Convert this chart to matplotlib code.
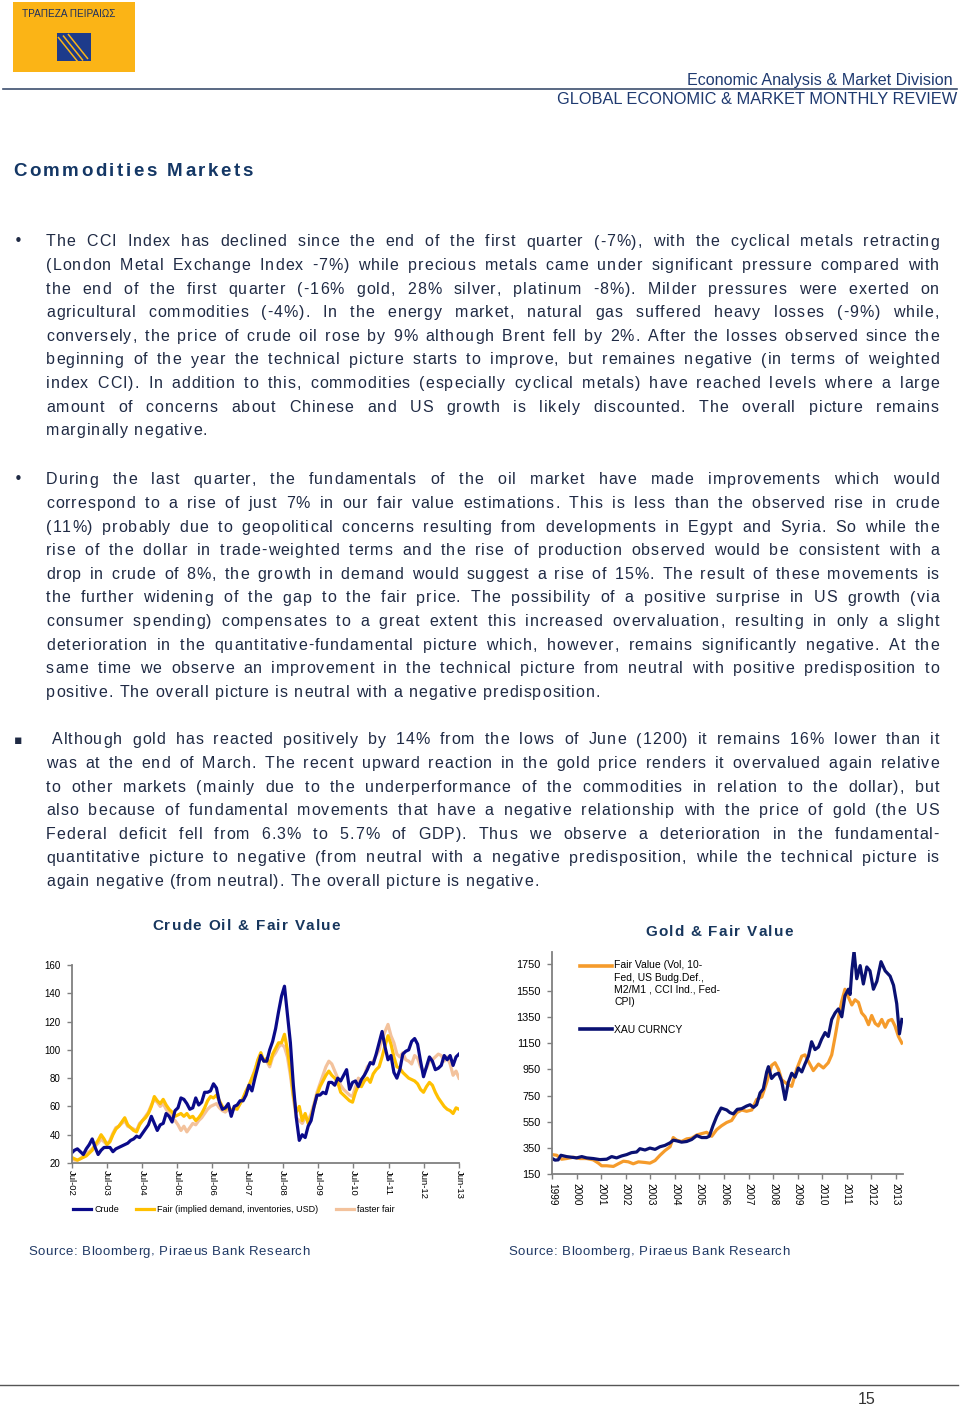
import numpy as np
import matplotlib
matplotlib.use("Agg")
import matplotlib.pyplot as plt
from matplotlib import font_manager as fm
from matplotlib.patches import Rectangle
from matplotlib.lines import Line2D
from matplotlib.legend_handler import HandlerLine2D

# %%
# data: crude oil chart, monthly points Jul-02 .. Jun-13
crude_ticks = ["Jul-02", "Jul-03", "Jul-04", "Jul-05", "Jul-06", "Jul-07",
               "Jul-08", "Jul-09", "Jul-10", "Jul-11", "Jun-12", "Jun-13"]

crude = [27, 29, 30, 28, 26, 30,
         33, 37, 31, 26, 29, 31, 31, 31, 28, 30, 31, 32,
         33, 34, 36, 37, 39, 38, 41, 44, 47, 53, 48, 43,
         47, 48, 55, 53, 49, 57, 59, 66, 65, 62, 58, 59,
         66, 61, 63, 70, 70, 71, 76, 73, 63, 58, 59, 62,
         53, 60, 61, 64, 64, 68, 75, 71, 80, 88, 96, 92,
         92, 100, 106, 115, 127, 138, 145, 125, 105, 75, 52, 36,
         40, 38, 46, 50, 60, 68, 68, 70, 69, 77, 77, 75,
         80, 78, 82, 86, 72, 77, 78, 74, 79, 82, 86, 91,
         90, 97, 105, 113, 102, 93, 96, 84, 80, 86, 97, 99,
         100, 106, 108, 104, 92, 81, 88, 95, 92, 86, 87, 89,
         96, 93, 96, 89, 95, 97]

fair_crude = [24, 23, 22, 23, 24, 25,
              27, 29, 33, 36, 40, 37, 33, 35, 40, 44, 46, 49,
              52, 47, 45, 43, 42, 47, 50, 52, 55, 60, 67, 64,
              62, 65, 61, 58, 56, 53, 54, 55, 53, 55, 52, 53,
              50, 52, 55, 59, 64, 67, 66, 68, 64, 60, 58, 60,
              57, 59, 58, 62, 66, 71, 75, 80, 85, 93, 98, 92,
              94, 90, 97, 101, 105, 105, 111, 100, 86, 68, 56, 60,
              50, 55, 48, 53, 60, 68, 74, 78, 82, 85, 82, 80,
              77, 70, 68, 66, 64, 63, 70, 75, 74, 78, 80, 77,
              83, 86, 88, 95, 103, 110, 104, 95, 88, 87, 84, 82,
              80, 79, 78, 76, 72, 70, 74, 77, 75, 70, 66, 63,
              60, 58, 57, 55, 59, 58]

faster_fair = [23, 22, 22, 23, 25, 27,
               28, 30, 32, 34, 37, 35, 33, 36, 41, 45, 46, 48,
               50, 46, 45, 44, 43, 48, 50, 53, 56, 61, 65, 63,
               60, 62, 58, 55, 52, 50, 47, 43, 46, 42, 45, 48,
               47, 50, 52, 55, 58, 60, 61, 62, 59, 57, 56, 58,
               57, 58, 59, 62, 65, 70, 74, 80, 86, 92, 96, 93,
               92, 88, 95, 98, 102, 104, 102, 95, 82, 66, 52, 50,
               48, 52, 50, 55, 62, 70, 76, 82, 88, 92, 90, 85,
               80, 75, 72, 70, 68, 67, 74, 80, 77, 82, 88, 90,
               92, 96, 100, 108, 113, 118, 110, 105, 97, 95, 98, 93,
               92, 90, 96, 94, 88, 85, 87, 92, 93, 95, 97, 96,
               92, 95, 90, 82, 85, 80]

# data: gold chart (decimal years)
gold_years = list(range(1999, 2014))

xau_t = [1999.00, 1999.11, 1999.24, 1999.35, 1999.58, 1999.79, 1999.99, 2000.20,
         2000.40, 2000.67, 2000.94, 2001.22, 2001.42, 2001.62, 2001.83, 2002.03,
         2002.23, 2002.44, 2002.57, 2002.78, 2002.98, 2003.19, 2003.39, 2003.59,
         2003.80, 2003.93, 2004.07, 2004.27, 2004.48, 2004.68, 2004.89, 2005.09,
         2005.29, 2005.40, 2005.55, 2005.70, 2005.88, 2006.11, 2006.24, 2006.38,
         2006.54, 2006.72, 2006.92, 2007.06, 2007.20, 2007.33, 2007.47, 2007.60,
         2007.74, 2007.81, 2007.94, 2008.08, 2008.22, 2008.35, 2008.49, 2008.62,
         2008.76, 2008.90, 2009.03, 2009.17, 2009.30, 2009.44, 2009.57, 2009.71,
         2009.85, 2009.98, 2010.12, 2010.25, 2010.39, 2010.53, 2010.66, 2010.80,
         2010.93, 2011.07, 2011.14, 2011.21, 2011.30, 2011.41, 2011.55, 2011.68,
         2011.82, 2011.95, 2012.09, 2012.23, 2012.40, 2012.57, 2012.77, 2012.91,
         2013.04, 2013.15, 2013.25]
xau = [270, 258, 260, 295, 285, 280, 275, 285,
       275, 270, 262, 265, 285, 275, 290, 300,
       315, 320, 345, 335, 350, 340, 360, 370,
       390, 410, 405, 395, 400, 415, 445, 430,
       430, 440, 520, 590, 655, 640, 620, 610,
       645, 650, 670, 680, 660, 680, 770, 800,
       930, 970, 880, 910, 920, 860, 720, 850,
       920, 890, 960, 930, 990, 1050, 1160, 1100,
       1120, 1180, 1230, 1200, 1330, 1380, 1410, 1350,
       1510, 1560, 1520, 1700, 1850, 1640, 1740, 1600,
       1730, 1700, 1560, 1620, 1770, 1700, 1660, 1590,
       1450, 1220, 1330]

gold_fair_t = [1999.00, 1999.18, 1999.38, 1999.58, 1999.86, 2000.13, 2000.40, 2000.67,
               2000.88, 2001.01, 2001.22, 2001.49, 2001.69, 2001.90, 2002.10, 2002.30,
               2002.51, 2002.78, 2002.98, 2003.19, 2003.39, 2003.59, 2003.80, 2003.93,
               2004.07, 2004.27, 2004.48, 2004.68, 2004.89, 2005.09, 2005.29, 2005.50,
               2005.70, 2005.90, 2006.11, 2006.31, 2006.52, 2006.72, 2006.92, 2007.13,
               2007.33, 2007.54, 2007.74, 2007.94, 2008.08, 2008.22, 2008.35, 2008.56,
               2008.76, 2008.96, 2009.17, 2009.30, 2009.44, 2009.64, 2009.85, 2010.05,
               2010.25, 2010.39, 2010.53, 2010.66, 2010.80, 2010.93, 2011.07, 2011.21,
               2011.34, 2011.48, 2011.61, 2011.75, 2011.89, 2012.02, 2012.16, 2012.29,
               2012.43, 2012.57, 2012.70, 2012.84, 2012.97, 2013.11, 2013.25]
gold_fair = [300, 295, 265, 270, 280, 270, 270, 260,
             235, 215, 215, 210, 230, 250, 245, 230,
             245, 240, 235, 255, 295, 330, 360, 430,
             410, 400, 420, 425, 450, 460, 470, 440,
             490, 520, 545, 560, 620, 640, 630, 640,
             720, 740, 850, 980, 1000, 950, 870, 840,
             820, 950, 1050, 1060, 1010, 940, 990, 960,
             1000, 1060, 1200, 1340, 1470, 1560, 1500, 1440,
             1480, 1460, 1380, 1350, 1290, 1360, 1300, 1280,
             1330, 1270, 1320, 1330, 1280, 1200, 1150]

# text of the page
para1 = [
    "The CCI Index has declined since the end of the first quarter (-7%), with the cyclical metals retracting",
    "(London Metal Exchange Index -7%) while precious metals came under significant pressure compared with",
    "the end of the first quarter (-16% gold, 28% silver, platinum -8%). Milder pressures were exerted on",
    "agricultural commodities (-4%). In the energy market, natural gas suffered heavy losses (-9%) while,",
    "conversely, the price of crude oil rose by 9% although Brent fell by 2%. After the losses observed since the",
    "beginning of the year the technical picture starts to improve, but remaines negative (in terms of weighted",
    "index CCI). In addition to this, commodities (especially cyclical metals) have reached levels where a large",
    "amount of concerns about Chinese and US growth is likely discounted. The overall picture remains",
    "marginally negative.",
]
para2 = [
    "During the last quarter, the fundamentals of the oil market have made improvements which would",
    "correspond to a rise of just 7% in our fair value estimations. This is less than the observed rise in crude",
    "(11%) probably due to geopolitical concerns resulting from developments in Egypt and Syria. So while the",
    "rise of the dollar in trade-weighted terms and the rise of production observed would be consistent with a",
    "drop in crude of 8%, the growth in demand would suggest a rise of 15%. The result of these movements is",
    "the further widening of the gap to the fair price. The possibility of a positive surprise in US growth (via",
    "consumer spending) compensates to a great extent this increased overvaluation, resulting in only a slight",
    "deterioration in the quantitative-fundamental picture which, however, remains significantly negative. At the",
    "same time we observe an improvement in the technical picture from neutral with positive predisposition to",
    "positive. The overall picture is neutral with a negative predisposition.",
]
para3 = [
    "Although gold has reacted positively by 14% from the lows of June (1200) it remains 16% lower than it",
    "was at the end of March. The recent upward reaction in the gold price renders it overvalued again relative",
    "to other markets (mainly due to the underperformance of the commodities in relation to the dollar), but",
    "also because of fundamental movements that have a negative relationship with the price of gold (the US",
    "Federal deficit fell from 6.3% to 5.7% of GDP). Thus we observe a deterioration in the fundamental-",
    "quantitative picture to negative (from neutral with a negative predisposition, while the technical picture is",
    "again negative (from neutral). The overall picture is negative.",
]

# %%
names = {f.name for f in fm.fontManager.ttflist}
SANS = "Liberation Sans" if "Liberation Sans" in names else "DejaVu Sans"
plt.rcParams["font.family"] = [SANS, "DejaVu Sans"]

NAVY_TXT = "#17365d"
BODY = "#1f2a44"

W, H = 960, 1408
fig = plt.figure(figsize=(W / 100, H / 100), dpi=100, facecolor="white")
page = fig.add_axes([0, 0, 1, 1])
page.set_xlim(0, W)
page.set_ylim(H, 0)
page.axis("off")

_adv = {}


def advance(ch, size, weight):
    key = (ch, size, weight)
    if key not in _adv:
        prop = fm.FontProperties(family=SANS, size=size, weight=weight)
        font = fm.get_font(fm.findfont(prop))
        font.set_size(size, 100)
        _adv[key] = font.load_char(ord(ch)).linearHoriAdvance / 65536
    return _adv[key]


def track_text(x, y, s, size, track, color, weight="normal", width=None):
    # letter-spaced text, optionally justified to a given width
    words = s.split(" ")
    base = sum(advance(c, size, weight) for w in words for c in w)
    inner = sum(max(len(w) - 1, 0) for w in words)
    sp = advance(" ", size, weight)
    if width is not None and len(words) > 1:
        gap = (width - base - track * inner) / (len(words) - 1)
        if gap < sp + track:
            track = max((width - base - (len(words) - 1) * (sp + 0.5)) / inner, 0)
            gap = (width - base - track * inner) / (len(words) - 1)
    else:
        gap = sp + 2 * track
    cx = x
    for w in words:
        for c in w:
            page.text(cx, y, c, fontsize=size, fontweight=weight, color=color,
                      va="baseline", ha="left")
            cx += advance(c, size, weight) + track
        cx += gap - track


# logo
page.add_patch(Rectangle((13, 2), 122, 70, color="#FBB416", lw=0))
sq = Rectangle((57, 33), 34, 28, color="#1d3b8b", lw=0)
page.add_patch(sq)
for off in (0, 5, 10):
    ln, = page.plot([58 + off, 78 + off], [37 - off * 0.3, 62 - off * 0.3],
                    color="#FBB416", lw=1.1, solid_capstyle="butt")
    ln.set_clip_path(sq)
page.text(22, 17, "ΤΡΑΠΕΖΑ ΠΕΙΡΑΙΩΣ", fontsize=7.2, color="#1c2e5e", va="baseline")

# header
page.text(953, 85, "Economic Analysis & Market Division", ha="right", va="baseline",
          fontsize=11.6, color="#1f3a70")
page.plot([3, 957], [89, 89], color="#3d4f6e", lw=1.2)
page.text(957, 104.5, "GLOBAL ECONOMIC & MARKET MONTHLY REVIEW", ha="right", va="baseline",
          fontsize=11.8, color="#1f3a70")

# title
track_text(13, 176, "Commodities Markets", 13.5, 2.5, "#143765", weight="bold")

# paragraphs
for lines, y0, x0, bullet in [(para1, 246.5, 46, "•"), (para2, 484.5, 46, "•"),
                              (para3, 744.5, 52, "▪")]:
    page.text(18, y0 - 1, bullet, fontsize=11 if bullet == "•" else 9, color=BODY,
              ha="center", va="baseline", family="DejaVu Sans")
    for i, line in enumerate(lines):
        x = x0 if i == 0 else 46
        last = i == len(lines) - 1
        track_text(x, y0 + 23.6 * i, line, 11.52, 1.0, BODY,
                   width=None if last else 939 - x)

# chart titles and sources
track_text(152, 930, "Crude Oil & Fair Value", 11, 1.3, NAVY_TXT, weight="bold")
track_text(645, 936, "Gold & Fair Value", 11, 1.3, NAVY_TXT, weight="bold")
track_text(28, 1255, "Source: Bloomberg, Piraeus Bank Research", 9.5, 0.55, "#1f3864")
track_text(508, 1255, "Source: Bloomberg, Piraeus Bank Research", 9.5, 0.55, "#1f3864")

# footer
page.plot([0, 958], [1385, 1385], color="#555555", lw=1.0)
page.text(867, 1404, "15", ha="center", va="baseline", fontsize=11.5, color="#333333")


def style_axes(ax):
    for s in ("top", "right"):
        ax.spines[s].set_visible(False)
    for s in ("left", "bottom"):
        ax.spines[s].set_color("#808080")
        ax.spines[s].set_linewidth(1.3)
    ax.tick_params(direction="out", length=3.5, width=1, color="#808080", labelcolor="black")
    ax.patch.set_alpha(0)


# %%
# crude oil chart
ax1 = fig.add_axes([71.5 / W, 1 - 1163 / H, 387.5 / W, 198 / H])
months = np.arange(len(crude))
ax1.plot(months, faster_fair, color="#F3C29C", lw=2.3, label="faster fair")
ax1.plot(months, fair_crude, color="#FFC000", lw=2.3, label="Fair (implied demand, inventories, USD)")
ax1.plot(months, crude, color="#0A0A8A", lw=2.3, label="Crude")
ax1.set_xlim(0, len(crude) - 1)
ax1.set_ylim(20, 160)
ax1.set_yticks(range(20, 161, 20))
ax1.set_xticks(np.linspace(0, len(crude) - 1, len(crude_ticks)))
ax1.set_xticklabels(crude_ticks, rotation=-90)
style_axes(ax1)
ax1.tick_params(axis="x", pad=1.5, labelsize=6.8)
ax1.tick_params(axis="y", pad=4.5, labelsize=7)
h, l = ax1.get_legend_handles_labels()
ax1.legend(h[::-1], l[::-1], loc="center left", bbox_to_anchor=(0.004, -0.237), ncol=3,
           frameon=False, fontsize=6.5, handlelength=2.0, handletextpad=0.35,
           columnspacing=1.9, borderpad=0, borderaxespad=0)

# %%
# gold chart
ax2 = fig.add_axes([552.3 / W, 1 - 1174.3 / H, 350.8 / W, 222.6 / H])
ax2.plot(gold_fair_t, gold_fair, color="#F59B2B", lw=2.3)
ax2.plot(xau_t, xau, color="#0A1172", lw=2.3)
ax2.set_xlim(1999, 2013.3)
ax2.set_ylim(150, 1846)
ax2.set_yticks(range(150, 1751, 200))
ax2.set_xticks(gold_years)
ax2.set_xticklabels([str(y) for y in gold_years], rotation=-90)
style_axes(ax2)
ax2.tick_params(axis="x", pad=3, labelsize=7.2)
ax2.tick_params(axis="y", pad=5, labelsize=7.8)


class RaisedLine(HandlerLine2D):
    def __init__(self, lift, **kw):
        super().__init__(**kw)
        self.lift = lift

    def create_artists(self, legend, orig_handle, xdescent, ydescent, width, height, fontsize, trans):
        arts = super().create_artists(legend, orig_handle, xdescent, ydescent, width, height, fontsize, trans)
        for a in arts:
            a.set_ydata(np.asarray(a.get_ydata(), dtype=float) + self.lift)
        return arts


fv = Line2D([], [], color="#F59B2B", lw=2.6)
xh = Line2D([], [], color="#0A1172", lw=2.6)
leg = ax2.legend([fv, xh],
                 ["Fair Value (Vol, 10-\nFed, US Budg.Def.,\nM2/M1 , CCI Ind., Fed-\nCPI)", "XAU CURNCY"],
                 loc="upper left", bbox_to_anchor=(0.079, 0.962), frameon=False, fontsize=7.5,
                 handlelength=3.1, handletextpad=0.2, labelspacing=1.7, borderpad=0,
                 borderaxespad=0, handler_map={fv: RaisedLine(13)})
for t in leg.get_texts():
    t.set_linespacing(1.3)

fig.savefig("out.png", dpi=100, facecolor="white")
